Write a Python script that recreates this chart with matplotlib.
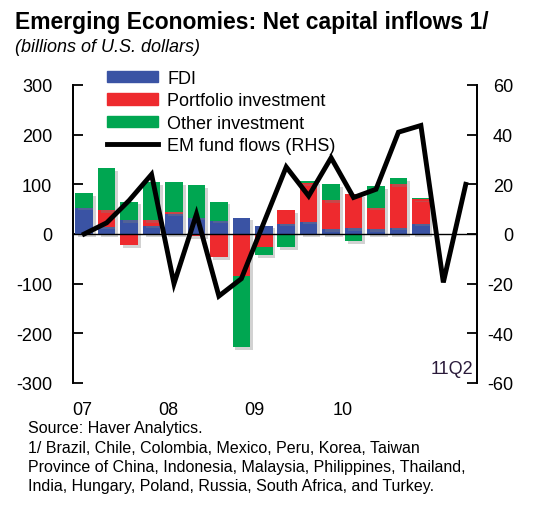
import numpy as np
import matplotlib.pyplot as plt
import matplotlib.patheffects as pe
from matplotlib.patches import Patch
from matplotlib.lines import Line2D

plt.rcParams['font.family'] = ['Liberation Sans', 'DejaVu Sans']
plt.rcParams['axes.unicode_minus'] = False

# quarterly data, 07Q1 .. 10Q4 for the bars, 07Q1 .. 11Q2 for the fund flows
fdi = [53, 15, 28, 17, 41, 33, 27, 33, 17, 21, 25, 10, 12, 10, 13, 21]
portfolio = [0, 33, -23, 11, 3, -4, -47, -84, -26, 27, 78, 58, 69, 43, 88, 49]
other = [29, 85, 37, 76, 61, 65, 38, -143, -17, -27, 4, 33, -14, 43, 12, 3]
fund_flows = [0, 4.5, 13.5, 24, -20, 8, -25, -18, 4.5, 27, 15.3, 30.7, 14.7, 18,
              41, 43.7, -19.5, 20]

year_labels = ['07', '08', '09', '10']
year_pos = [-0.1, 3.75, 7.6, 11.5]
rhs_ticks = [-60, -40, -20, 0, 20, 40, 60]

c_fdi = '#3a53a4'
c_port = '#ee2a2e'
c_other = '#00a651'

fig = plt.figure(figsize=(5.42, 5.06), dpi=100)
ax = fig.add_axes([73/542, 1-384/506, 404/542, 298/506])
ax2 = ax.twinx()

# stacked bars, positives and negatives stacked separately
x = np.arange(len(fdi))
pos_bottom = np.zeros(len(fdi))
neg_bottom = np.zeros(len(fdi))
shadow = [pe.SimplePatchShadow(offset=(2, -2), shadow_rgbFace='grey', alpha=0.35),
          pe.Normal()]
for vals, col in [(fdi, c_fdi), (portfolio, c_port), (other, c_other)]:
    v = np.array(vals, dtype=float)
    bottom = np.where(v >= 0, pos_bottom, neg_bottom)
    bars = ax.bar(x, v, 0.78, bottom=bottom, color=col, linewidth=0, zorder=2)
    for b in bars:
        b.set_path_effects(shadow)
    pos_bottom += np.where(v >= 0, v, 0)
    neg_bottom += np.where(v < 0, v, 0)

ax.axhline(0, color='black', lw=1.0, zorder=3)

ax2.plot(np.arange(len(fund_flows)), fund_flows, color='black', lw=3.5,
         solid_joinstyle='miter', zorder=4)

ax.set_xlim(-0.5, 17.5)
ax.set_ylim(-300, 300)
ax.set_yticks(np.arange(-300, 301, 100))
ax2.set_ylim(-60, 60)
ax2.set_yticks(rhs_ticks)
ax2.set_yticklabels([str(t) for t in rhs_ticks], ha='right')

for a in (ax, ax2):
    a.spines['top'].set_visible(False)
    a.spines['bottom'].set_visible(False)
    a.spines['left'].set_linewidth(1.3)
    a.spines['right'].set_linewidth(1.3)

ax.tick_params(axis='y', direction='in', length=7, width=1.3, labelsize=13, pad=15)
ax2.tick_params(axis='y', direction='in', length=7, width=1.3, labelsize=13, pad=26)
ax.set_xticks(year_pos)
ax.set_xticklabels(year_labels)
ax.tick_params(axis='x', length=0, labelsize=13, pad=13)

ax.text(0.99, 0.047, '11Q2', transform=ax.transAxes, ha='right', va='center',
        fontsize=13, color='#2a1a3a')

handles = [Patch(color=c_fdi), Patch(color=c_port), Patch(color=c_other),
           Line2D([], [], color='black', lw=3.5)]
labels = ['FDI', 'Portfolio investment', 'Other investment', 'EM fund flows (RHS)']
ax2.legend(handles, labels, loc='upper left', bbox_to_anchor=(107/542, 1-71/506),
           bbox_transform=fig.transFigure, frameon=False, fontsize=13,
           borderpad=0, borderaxespad=0, handlelength=2.8, handleheight=0.62,
           handletextpad=0.55, labelspacing=0.3)

fig.text(15/542, 1-22/506, 'Emerging Economies: Net capital inflows 1/',
         fontsize=16.5, fontweight='bold', va='center')
fig.text(15/542, 1-47/506, '(billions of U.S. dollars)', fontsize=13,
         style='italic', va='center')

notes = ['Source: Haver Analytics.',
         '1/ Brazil, Chile, Colombia, Mexico, Peru, Korea, Taiwan',
         'Province of China, Indonesia, Malaysia, Philippines, Thailand,',
         'India, Hungary, Poland, Russia, South Africa, and Turkey.']
for i, line in enumerate(notes):
    fig.text(28/542, 1-(429 + i*19.3)/506, line, fontsize=11.5, va='center')

fig.savefig('out.png', dpi=100)
